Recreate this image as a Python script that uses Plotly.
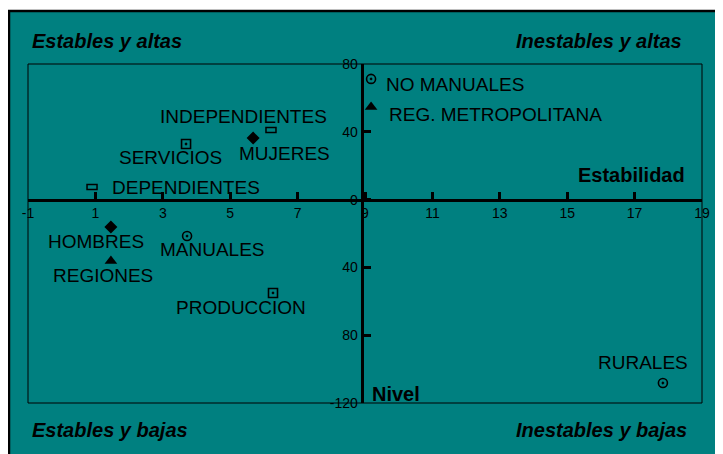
import plotly.graph_objects as go

# grupos (lectura aproximada del grafico)
nombres = ["NO MANUALES", "REG. METROPOLITANA", "INDEPENDIENTES", "MUJERES",
           "SERVICIOS", "DEPENDIENTES", "HOMBRES", "MANUALES", "REGIONES",
           "PRODUCCION", "RURALES"]
estabilidad = [9.18, 9.18, 6.21, 5.68, 3.69, 0.90, 1.46, 3.72, 1.46, 6.27, 17.84]
nivel = [71.2, 54.6, 41.1, 36.3, 32.8, 7.4, -16.2, -21.5, -36.2, -55.1, -108.2]
tipo = ["ocupacion", "region", "categoria", "sexo", "sector", "categoria",
        "sexo", "ocupacion", "region", "sector", "ocupacion"]

x_ticks = [-1, 1, 3, 5, 7, 9, 11, 13, 15, 17, 19]
x_ticktext = ["-1", "1", "3", "5", "7", "9", "11", "13", "15", "17", "19"]
y_ticks = [80, 40, 0, -40, -80, -120]
y_ticktext = ["80", "40", "0", "40", "80", "-120"]

X_MIN, X_MAX = -1, 19
Y_MIN, Y_MAX = -120, 80
CRUCE_X = 8.9   # donde corta el eje vertical
CRUCE_Y = 0

TEAL = "#008080"
FONT = "Arial, Liberation Sans, sans-serif"

# desplazamiento de cada etiqueta respecto a su marcador (px): xanchor, dx, dy
etiqueta_pos = {
    "NO MANUALES": ("left", 13, -6),
    "REG. METROPOLITANA": ("left", 16, -7),
    "INDEPENDIENTES": ("center", -27, 13),
    "MUJERES": ("center", 31, -15),
    "SERVICIOS": ("center", -16, -13),
    "DEPENDIENTES": ("left", 18, 0),
    "HOMBRES": ("center", -15, -14),
    "MANUALES": ("center", 25, -13),
    "REGIONES": ("center", -8, -15),
    "PRODUCCION": ("center", -32, -15),
    "RURALES": ("center", -20, 21),
}

simbolos = {
    "ocupacion": dict(symbol="circle-open-dot", size=9, line=dict(width=1.6)),
    "region": dict(symbol="triangle-up", size=11),
    "sexo": dict(symbol="diamond", size=10),
    "sector": dict(symbol="square-open-dot", size=9, line=dict(width=1.6)),
}

fig = go.Figure()

for t, m in simbolos.items():
    idx = [i for i, v in enumerate(tipo) if v == t]
    fig.add_trace(go.Scatter(
        x=[estabilidad[i] for i in idx],
        y=[nivel[i] for i in idx],
        mode="markers",
        marker=dict(color="black", **m),
        hoverinfo="text",
        text=[nombres[i] for i in idx],
        showlegend=False,
    ))

shapes = []
# marco exterior del grafico
shapes.append(dict(type="rect", xref="paper", yref="paper",
                   x0=-19 / 674, x1=1.05, y0=-0.2, y1=392 / 339,
                   fillcolor=TEAL, line=dict(color="black", width=2.5),
                   layer="below"))
# borde del area de trazado
shapes.append(dict(type="rect", xref="paper", yref="paper",
                   x0=0, x1=1, y0=0, y1=1,
                   line=dict(color="black", width=1), layer="below"))

# rectangulos huecos (categoria ocupacional)
for i, t in enumerate(tipo):
    if t == "categoria":
        shapes.append(dict(type="rect", xref="x", yref="y",
                           xsizemode="pixel", ysizemode="pixel",
                           xanchor=estabilidad[i], yanchor=nivel[i],
                           x0=-5, x1=5, y0=-2.5, y1=2.5,
                           line=dict(color="black", width=1.5),
                           fillcolor=TEAL))

annotations = []
for i, n in enumerate(nombres):
    xa, dx, dy = etiqueta_pos[n]
    annotations.append(dict(x=estabilidad[i], y=nivel[i], text=n,
                            xanchor=xa, yanchor="middle",
                            xshift=dx, yshift=dy, showarrow=False,
                            font=dict(family=FONT, size=19, color="black")))

# titulos de ejes
annotations.append(dict(x=X_MAX, y=CRUCE_Y, xref="x", yref="y", text="<b>Estabilidad</b>",
                        xanchor="right", yanchor="bottom", xshift=-15, yshift=12,
                        showarrow=False, font=dict(family=FONT, size=20, color="black")))
annotations.append(dict(x=CRUCE_X, y=Y_MIN, xref="x", yref="y", text="<b>Nivel</b>",
                        xanchor="left", yanchor="bottom", xshift=8, yshift=-4,
                        showarrow=False, font=dict(family=FONT, size=20, color="black")))

# cuadrantes
cuadrantes = [("Estables y altas", "left", 2 / 674, 1 + 23 / 339),
              ("Inestables y altas", "right", 656 / 674, 1 + 23 / 339),
              ("Estables y bajas", "left", 2 / 674, -27 / 339),
              ("Inestables y bajas", "right", 661 / 674, -27 / 339)]
for txt, xa, px, py in cuadrantes:
    annotations.append(dict(x=px, y=py, xref="paper", yref="paper",
                            text="<b><i>" + txt + "</i></b>", xanchor=xa,
                            yanchor="middle", showarrow=False,
                            font=dict(family=FONT, size=20, color="black")))

# la pagina deja 8 px de margen en el body
fig.update_layout(
    width=715, height=446,
    margin=dict(l=20, r=21, t=56, b=51),
    paper_bgcolor="white",
    plot_bgcolor="rgba(0,0,0,0)",
    shapes=shapes,
    annotations=annotations,
    xaxis=dict(range=[X_MIN, X_MAX], tickvals=x_ticks, ticktext=x_ticktext,
               anchor="free", position=(CRUCE_Y - Y_MIN) / (Y_MAX - Y_MIN),
               showline=True, linecolor="black", linewidth=3,
               ticks="inside", ticklen=7, tickwidth=3, tickcolor="black",
               showgrid=False, zeroline=False,
               tickfont=dict(family=FONT, size=14, color="black")),
    yaxis=dict(range=[Y_MIN, Y_MAX], tickvals=y_ticks, ticktext=y_ticktext,
               anchor="free", position=(CRUCE_X - X_MIN) / (X_MAX - X_MIN),
               showline=True, linecolor="black", linewidth=3,
               ticks="inside", ticklen=7, tickwidth=3, tickcolor="black",
               showgrid=False, zeroline=False,
               tickfont=dict(family=FONT, size=14, color="black")),
)

fig.write_html("out.html")
